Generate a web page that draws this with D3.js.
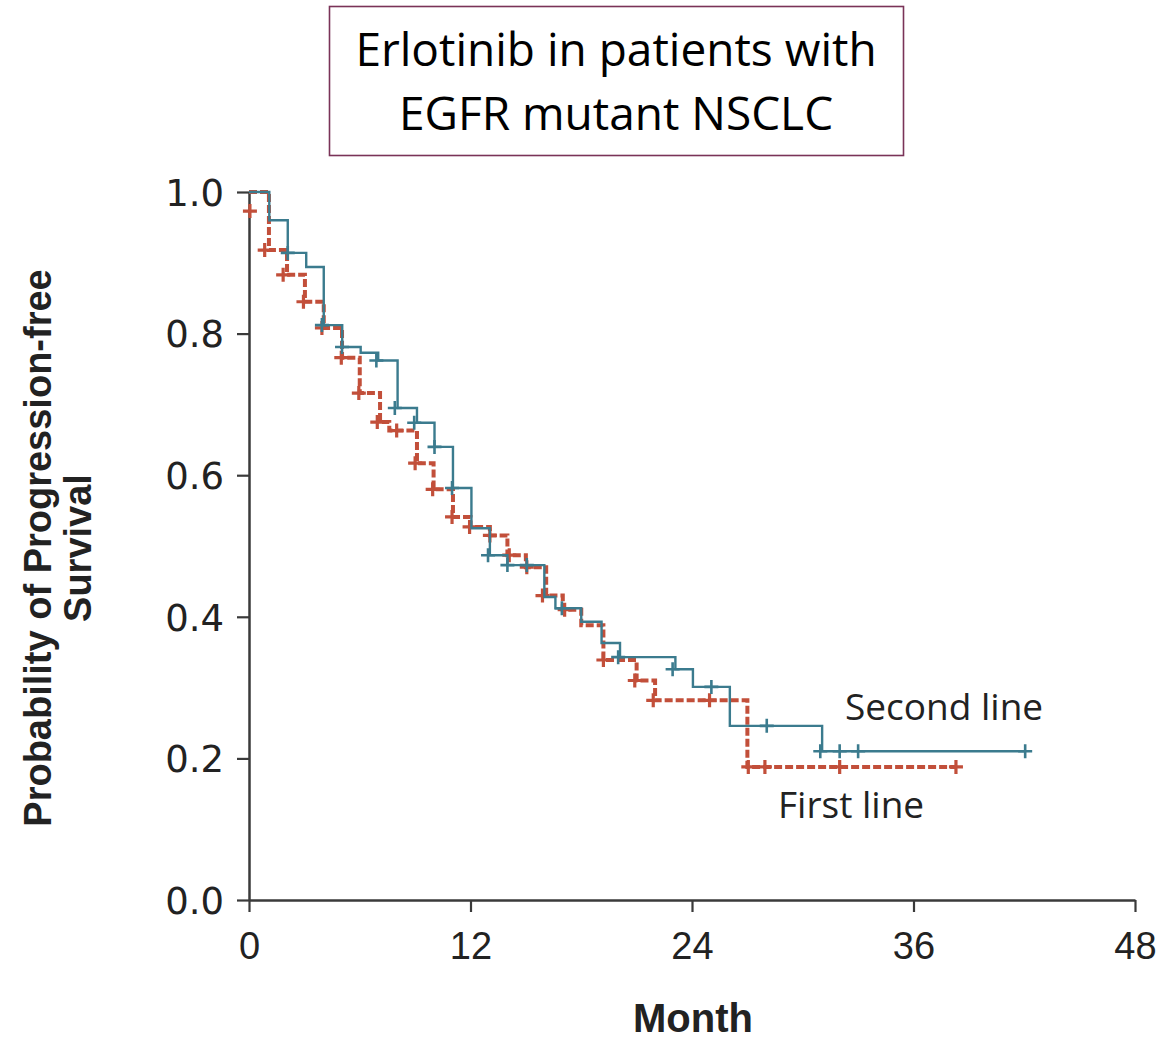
<!DOCTYPE html>
<html>
<head>
<meta charset="UTF-8">
<title>Erlotinib PFS</title>
<style>
  body { margin: 0; background: #fff; }
</style>
</head>
<body>
<div id="chart"></div>
<script src="https://d3js.org/d3.v7.min.js"></script>
<script>
// step points of the Kaplan-Meier curves (month, probability)
var secondMonths = [0, 1.1, 2.1, 3.1, 4.05, 5.05, 6.05, 7.0, 8.05, 9.1, 10.05, 11.05, 12.05, 13.05, 14.0, 16.0, 16.6, 18.0, 19.1, 20.1, 23.1, 24.05, 26.05, 31.05, 42.05];
var secondSurv   = [1.0, 0.96, 0.914, 0.894, 0.812, 0.781, 0.773, 0.762, 0.695, 0.674, 0.64, 0.582, 0.525, 0.487, 0.473, 0.428, 0.412, 0.393, 0.363, 0.343, 0.326, 0.301, 0.246, 0.21, 0.21];
var firstMonths  = [0, 1.08, 2.06, 3.03, 4.05, 5.04, 6.0, 7.1, 7.6, 9.1, 10.0, 11.05, 12.0, 13.05, 14.0, 15.0, 16.1, 17.0, 18.0, 19.2, 21.0, 22.0, 27.0, 38.3];
var firstSurv    = [1.0, 0.918, 0.883, 0.845, 0.808, 0.766, 0.716, 0.675, 0.663, 0.617, 0.58, 0.541, 0.527, 0.515, 0.487, 0.47, 0.43, 0.41, 0.388, 0.339, 0.31, 0.282, 0.188, 0.188];

// censored observations (month, probability)
var secondCensorMonths = [2.1, 3.95, 5.04, 6.9, 7.9, 8.95, 10.05, 11.0, 12.95, 14.0, 15.05, 16.95, 20.0, 22.95, 25.05, 28.05, 30.95, 32.0, 33.0, 42.05];
var secondCensorSurv   = [0.914, 0.812, 0.781, 0.762, 0.695, 0.674, 0.64, 0.582, 0.487, 0.473, 0.473, 0.412, 0.343, 0.326, 0.301, 0.246, 0.21, 0.21, 0.21, 0.21];
var firstCensorMonths  = [0.05, 0.85, 1.85, 2.95, 3.95, 5.0, 5.95, 6.95, 8.0, 9.0, 9.95, 11.0, 11.95, 13.05, 14.1, 15.05, 15.9, 17.1, 19.2, 20.9, 21.9, 24.95, 27.05, 27.95, 32.0, 38.3];
var firstCensorSurv    = [0.973, 0.918, 0.883, 0.845, 0.808, 0.766, 0.716, 0.675, 0.663, 0.617, 0.58, 0.541, 0.527, 0.515, 0.487, 0.47, 0.43, 0.41, 0.339, 0.31, 0.282, 0.282, 0.188, 0.188, 0.188, 0.188];

var xTicks = [0, 12, 24, 36, 48];
var yTicks = [0, 0.2, 0.4, 0.6, 0.8, 1.0];
var titleLines = ["Erlotinib in patients with", "EGFR mutant NSCLC"];

var width = 1159, height = 1042;
var blue = "#3b7b8e", red = "#c24f3a";

var svg = d3.select("#chart").append("svg")
  .attr("width", width)
  .attr("height", height)
  .style("background", "#fff");

var x = d3.scaleLinear().domain([0, 48]).range([249, 1135]);
var y = d3.scaleLinear().domain([0, 1]).range([900, 192]);

// title box
svg.append("rect")
  .attr("x", 329.5).attr("y", 6.5)
  .attr("width", 574).attr("height", 149)
  .attr("fill", "none")
  .attr("stroke", "#7a3358")
  .attr("stroke-width", 1.6);

svg.selectAll(".title")
  .data(titleLines)
  .enter().append("text")
  .attr("class", "title")
  .attr("x", 616)
  .attr("y", function(d, i) { return 66 + i * 64; })
  .attr("text-anchor", "middle")
  .attr("font-family", "'Open Sans', 'Noto Sans', sans-serif")
  .attr("font-size", 46)
  .attr("fill", "#000")
  .text(function(d) { return d; });

// axes
var yAxis = svg.append("g")
  .attr("transform", "translate(249,0)")
  .call(d3.axisLeft(y).tickValues(yTicks).tickFormat(d3.format(".1f")).tickSize(12).tickSizeOuter(0).tickPadding(13));
var xAxis = svg.append("g")
  .attr("transform", "translate(0,900)")
  .call(d3.axisBottom(x).tickValues(xTicks).tickSize(12).tickSizeOuter(0).tickPadding(20));

[yAxis, xAxis].forEach(function(ax) {
  ax.select(".domain").attr("stroke", "#3a3a3a").attr("stroke-width", 2.5);
  ax.selectAll(".tick line").attr("stroke", "#3a3a3a").attr("stroke-width", 2.2);
});
yAxis.selectAll(".tick text")
  .attr("font-family", "'DejaVu Sans', sans-serif")
  .attr("font-size", 37)
  .attr("fill", "#222")
  .attr("dy", "0.36em");
xAxis.selectAll(".tick text")
  .attr("font-family", "'Liberation Sans Narrow', 'Liberation Sans', sans-serif")
  .attr("font-size", 38)
  .attr("fill", "#222");

// axis titles
var yLabel = svg.append("text")
  .attr("transform", "translate(51,548) rotate(-90)")
  .attr("text-anchor", "middle")
  .attr("font-family", "'Liberation Sans', Arial, sans-serif")
  .attr("font-weight", "bold")
  .attr("font-size", 38)
  .attr("fill", "#222");
yLabel.append("tspan").attr("x", 0).attr("dy", 0).text("Probability of Progression-free");
yLabel.append("tspan").attr("x", 0).attr("dy", 40).text("Survival");

svg.append("text")
  .attr("x", 693).attr("y", 1032)
  .attr("text-anchor", "middle")
  .attr("font-family", "'Liberation Sans', Arial, sans-serif")
  .attr("font-weight", "bold")
  .attr("font-size", 40)
  .attr("fill", "#222")
  .text("Month");

// curves
var line = d3.line()
  .x(function(d) { return x(d[0]); })
  .y(function(d) { return y(d[1]); })
  .curve(d3.curveStepAfter);

var series = [
  {name: "First line", months: firstMonths, surv: firstSurv, cm: firstCensorMonths, cs: firstCensorSurv, color: red, w: 4, dash: "8,3", label: [778, 818]},
  {name: "Second line", months: secondMonths, surv: secondSurv, cm: secondCensorMonths, cs: secondCensorSurv, color: blue, w: 2.4, dash: null, label: [845, 720]}
];

series.forEach(function(s) {
  var pts = d3.zip(s.months, s.surv);
  svg.append("path")
    .datum(pts)
    .attr("d", line)
    .attr("fill", "none")
    .attr("stroke", s.color)
    .attr("stroke-width", s.w)
    .attr("stroke-dasharray", s.dash);

  svg.selectAll(".cens-" + s.name.replace(" ", ""))
    .data(d3.zip(s.cm, s.cs))
    .enter().append("path")
    .attr("class", "cens-" + s.name.replace(" ", ""))
    .attr("d", function(d) {
      var cx = x(d[0]), cy = y(d[1]);
      return "M" + (cx - 7) + "," + cy + "H" + (cx + 7) + "M" + cx + "," + (cy - 7) + "V" + (cy + 7);
    })
    .attr("stroke", s.color)
    .attr("stroke-width", s.w > 3 ? 3.2 : 2.6)
    .attr("fill", "none");

  svg.append("text")
    .attr("x", s.label[0]).attr("y", s.label[1])
    .attr("font-family", "'Open Sans', 'Noto Sans', sans-serif")
    .attr("font-size", 37)
    .attr("fill", "#222")
    .text(s.name);
});
</script>
</body>
</html>
